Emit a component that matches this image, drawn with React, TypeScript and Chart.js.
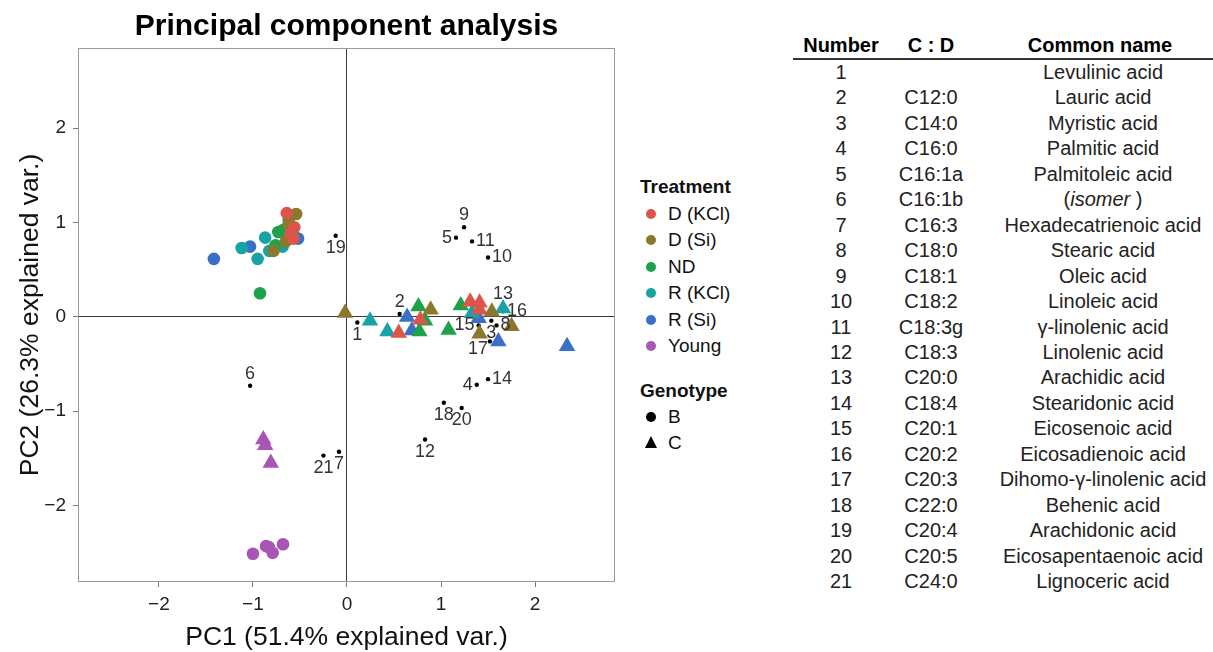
import React, { useEffect, useRef } from "react";
import { Chart, registerables } from "chart.js";

Chart.register(...registerables);

const FONT = "'Liberation Sans', Arial, Helvetica, sans-serif";

// ---------- chart text ----------
const chartTitle = "Principal component analysis";
const xAxisTitle = "PC1 (51.4% explained var.)";
const yAxisTitle = "PC2 (26.3% explained var.)";
const xTickValues = [-2, -1, 0, 1, 2];
const yTickValues = [-2, -1, 0, 1, 2];
const xRange = [-2.86, 2.85];
const yRange = [-2.81, 2.85];

// ---------- legend ----------
const treatments = ["D (KCl)", "D (Si)", "ND", "R (KCl)", "R (Si)", "Young"];
const treatmentColors = ["#DC554B", "#8C782D", "#1FA04B", "#17A2A6", "#3B6FC7", "#A855B5"];
const genotypes = ["B", "C"];

// ---------- scores, genotype B (circles) ----------
const dKclB: [number, number][] = [[-0.64, 1.1], [-0.56, 0.95], [-0.6, 0.88], [-0.57, 0.83]];
const dSiB: [number, number][] = [[-0.54, 1.09], [-0.62, 0.98], [-0.65, 0.8], [-0.78, 0.7]];
const ndB: [number, number][] = [[-0.62, 1.03], [-0.68, 0.92], [-0.73, 0.9], [-0.58, 0.88], [-0.76, 0.76], [-0.925, 0.25]];
const rKclB: [number, number][] = [[-1.12, 0.73], [-0.95, 0.615], [-0.87, 0.84], [-0.826, 0.7], [-0.684, 0.745]];
const rSiB: [number, number][] = [[-1.415, 0.615], [-1.03, 0.745], [-0.64, 0.94], [-0.52, 0.83]];
const youngB: [number, number][] = [[-1.0, -2.51], [-0.86, -2.43], [-0.83, -2.44], [-0.79, -2.5], [-0.68, -2.41]];

// ---------- scores, genotype C (triangles) ----------
const dKclC: [number, number][] = [[0.55, -0.17], [0.78, -0.03], [1.31, 0.16], [1.41, 0.15], [1.41, 0.075]];
const dSiC: [number, number][] = [[-0.02, 0.04], [0.89, 0.075], [1.54, 0.055], [1.41, -0.18], [1.75, -0.1]];
const ndC: [number, number][] = [[0.76, 0.11], [0.83, -0.04], [0.77, -0.155], [1.08, -0.14], [1.21, 0.12]];
const rKclC: [number, number][] = [[0.245, -0.04], [0.43, -0.155], [1.33, 0.04], [1.66, 0.09]];
const rSiC: [number, number][] = [[0.64, 0.0], [0.69, -0.145], [1.4, -0.015], [1.61, -0.26], [2.34, -0.31]];
const youngC: [number, number][] = [[-0.89, -1.3], [-0.87, -1.36], [-0.81, -1.55]];

const groupsB = [dKclB, dSiB, ndB, rKclB, rSiB, youngB];
const groupsC = [dKclC, dSiC, ndC, rKclC, rSiC, youngC];

// ---------- loadings (fatty acids) ----------
const loadingLabels = ["1", "2", "3", "4", "5", "6", "7", "8", "9", "10", "11", "12", "13", "14", "15", "16", "17", "18", "19", "20", "21"];
const loadingX = [0.11, 0.56, 1.535, 1.38, 1.16, -1.03, -0.085, 1.59, 1.245, 1.5, 1.33, 0.83, 1.66, 1.5, 1.4, 1.66, 1.52, 1.03, -0.12, 1.22, -0.25];
const loadingY = [-0.06, 0.03, -0.04, -0.72, 0.84, -0.73, -1.43, -0.09, 0.95, 0.63, 0.8, -1.3, 0.12, -0.66, -0.09, 0.06, -0.26, -0.91, 0.86, -0.965, -1.47];
// label placement relative to its dot (style only)
const loadingLabelSide = ["bottom", "top", "bottom", "left", "left", "top", "bottom", "right", "top", "right", "right", "bottom", "top", "right", "left", "right", "bottomLeft", "bottom", "bottom", "bottom", "bottom"];

// ---------- table ----------
const tableHeaders = ["Number", "C : D", "Common name"];
const tableNumbers = ["1", "2", "3", "4", "5", "6", "7", "8", "9", "10", "11", "12", "13", "14", "15", "16", "17", "18", "19", "20", "21"];
const tableCD = ["", "C12:0", "C14:0", "C16:0", "C16:1a", "C16:1b", "C16:3", "C18:0", "C18:1", "C18:2", "C18:3g", "C18:3", "C20:0", "C18:4", "C20:1", "C20:2", "C20:3", "C22:0", "C20:4", "C20:5", "C24:0"];
const tableNames = ["Levulinic acid", "Lauric acid", "Myristic acid", "Palmitic acid", "Palmitoleic acid", "(isomer)", "Hexadecatrienoic acid", "Stearic acid", "Oleic acid", "Linoleic acid", "γ-linolenic acid", "Linolenic acid", "Arachidic acid", "Stearidonic acid", "Eicosenoic acid", "Eicosadienoic acid", "Dihomo-γ-linolenic acid", "Behenic acid", "Arachidonic acid", "Eicosapentaenoic acid", "Lignoceric acid"];

const fmtTick = (v: number) => (v < 0 ? "\u2212" + Math.abs(v) : String(v));

const panelBorder = {
  id: "panelBorder",
  afterDraw(chart: any) {
    const { ctx, chartArea: a } = chart;
    ctx.save();
    ctx.strokeStyle = "#9a9a9a";
    ctx.lineWidth = 1;
    ctx.strokeRect(a.left + 0.5, a.top + 0.5, a.right - a.left - 1, a.bottom - a.top - 1);
    ctx.restore();
  },
};

const loadingText = {
  id: "loadingText",
  afterDatasetsDraw(chart: any) {
    const idx = chart.data.datasets.findIndex((d: any) => d.label === "loadings");
    if (idx < 0) return;
    const meta = chart.getDatasetMeta(idx);
    const { ctx } = chart;
    ctx.save();
    ctx.font = `18px ${FONT}`;
    ctx.fillStyle = "#333";
    ctx.textBaseline = "middle";
    meta.data.forEach((pt: any, i: number) => {
      const side = loadingLabelSide[i];
      let x = pt.x, y = pt.y;
      ctx.textAlign = "center";
      if (side === "top") y -= 12;
      else if (side === "bottom") y += 12;
      else if (side === "left") { ctx.textAlign = "right"; x -= 4; }
      else if (side === "right") { ctx.textAlign = "left"; x += 4; }
      else if (side === "bottomLeft") { ctx.textAlign = "right"; x -= 2; y += 8; }
      ctx.fillText(loadingLabels[i], x, y);
    });
    ctx.restore();
  },
};

function PcaChart() {
  const ref = useRef<HTMLCanvasElement | null>(null);
  useEffect(() => {
    if (!ref.current) return;
    const datasets: any[] = [];
    groupsB.forEach((g, i) => {
      datasets.push({
        label: treatments[i] + " B",
        data: g.map(([x, y]) => ({ x, y })),
        pointStyle: "circle",
        pointRadius: 6.3,
        backgroundColor: treatmentColors[i],
        borderColor: treatmentColors[i],
        borderWidth: 0,
      });
    });
    groupsC.forEach((g, i) => {
      datasets.push({
        label: treatments[i] + " C",
        data: g.map(([x, y]) => ({ x, y })),
        pointStyle: "triangle",
        pointRadius: 9.5,
        backgroundColor: treatmentColors[i],
        borderColor: treatmentColors[i],
        borderWidth: 0,
      });
    });
    datasets.push({
      label: "loadings",
      data: loadingX.map((x, i) => ({ x, y: loadingY[i] })),
      pointStyle: "circle",
      pointRadius: 2.2,
      backgroundColor: "#000",
      borderWidth: 0,
    });

    const axisCommon = (values: number[]) => ({
      type: "linear" as const,
      afterBuildTicks: (s: any) => {
        s.ticks = values.map((v) => ({ value: v }));
      },
      ticks: {
        color: "#222",
        font: { family: FONT, size: 19 },
        callback: (v: any) => fmtTick(Number(v)),
        autoSkip: false,
        maxRotation: 0,
      },
      grid: {
        drawOnChartArea: true,
        drawTicks: true,
        tickLength: 5,
        color: (c: any) => (c.tick && c.tick.value === 0 ? "#3a3a3a" : "rgba(0,0,0,0)"),
        tickColor: "#7a7a7a",
        lineWidth: 1,
      },
      border: { display: false },
    });

    const chart = new Chart(ref.current, {
      type: "scatter",
      data: { datasets },
      plugins: [panelBorder, loadingText],
      options: {
        animation: false,
        responsive: true,
        maintainAspectRatio: false,
        layout: { padding: { left: 0, right: 15, top: 0, bottom: 0 } },
        plugins: {
          legend: { display: false },
          tooltip: { enabled: false },
          title: {
            display: true,
            text: chartTitle,
            fullSize: false,
            color: "#000",
            font: { family: FONT, size: 30, weight: "bold", lineHeight: 1.2 },
            padding: { top: 9, bottom: 3 },
          },
        },
        scales: {
          x: {
            ...axisCommon(xTickValues),
            min: xRange[0],
            max: xRange[1],
            ticks: { ...axisCommon(xTickValues).ticks, padding: 6 },
            title: {
              display: true,
              text: xAxisTitle,
              color: "#111",
              font: { family: FONT, size: 26.5, lineHeight: 1.1 },
              padding: { top: 0, bottom: 0 },
            },
            afterFit: (s: any) => {
              s.height = 70;
            },
          },
          y: {
            ...axisCommon(yTickValues),
            min: yRange[0],
            max: yRange[1],
            ticks: { ...axisCommon(yTickValues).ticks, padding: 7 },
            title: {
              display: true,
              text: yAxisTitle,
              color: "#111",
              font: { family: FONT, size: 26.5, lineHeight: 1.2 },
              padding: { top: 15, bottom: 0 },
            },
            afterFit: (s: any) => {
              s.width = 78;
            },
          },
        },
      },
    } as any);
    return () => chart.destroy();
  }, []);
  return <canvas ref={ref} />;
}

const legendText: React.CSSProperties = {
  position: "absolute",
  left: 668,
  height: 24,
  lineHeight: "24px",
  fontSize: 19,
  color: "#111",
  whiteSpace: "nowrap",
};

function Legend() {
  const rowCenter = (i: number) => 214 + i * 26.4;
  return (
    <>
      <div style={{ ...legendText, left: 640, top: 187 - 12, fontWeight: "bold" }}>Treatment</div>
      {treatments.map((t, i) => (
        <React.Fragment key={t}>
          <div
            style={{
              position: "absolute",
              left: 646,
              top: rowCenter(i) - 5,
              width: 10,
              height: 10,
              borderRadius: "50%",
              background: treatmentColors[i],
            }}
          />
          <div style={{ ...legendText, top: rowCenter(i) - 12 }}>{t}</div>
        </React.Fragment>
      ))}
      <div style={{ ...legendText, left: 640, top: 391 - 12, fontWeight: "bold" }}>Genotype</div>
      {genotypes.map((g, i) => {
        const cy = 417 + i * 25.5;
        return (
          <React.Fragment key={g}>
            {i === 0 ? (
              <div
                style={{
                  position: "absolute",
                  left: 646,
                  top: cy - 5,
                  width: 10,
                  height: 10,
                  borderRadius: "50%",
                  background: "#000",
                }}
              />
            ) : (
              <div
                style={{
                  position: "absolute",
                  left: 645,
                  top: cy - 7,
                  width: 0,
                  height: 0,
                  borderLeft: "6.5px solid transparent",
                  borderRight: "6.5px solid transparent",
                  borderBottom: "12px solid #000",
                }}
              />
            )}
            <div style={{ ...legendText, top: cy - 12 }}>{g}</div>
          </React.Fragment>
        );
      })}
    </>
  );
}

function renderName(name: string) {
  const m = name.match(/^\((.*)\)$/);
  if (m) {
    return (
      <>
        (<i>{m[1]}</i>&nbsp;)
      </>
    );
  }
  return name;
}

function Table() {
  const colCenters = [841, 931, 1103];
  const cell = (cx: number, cy: number, bold: boolean): React.CSSProperties => ({
    position: "absolute",
    left: cx - 120,
    width: 240,
    top: cy - 12,
    height: 24,
    lineHeight: "24px",
    textAlign: "center",
    fontSize: 20,
    fontWeight: bold ? "bold" : "normal",
    color: bold ? "#000" : "#222",
    whiteSpace: "nowrap",
  });
  return (
    <>
      {tableHeaders.map((h, j) => (
        <div key={h} style={cell(j === 2 ? 1100 : colCenters[j], 45, true)}>
          {h}
        </div>
      ))}
      <div style={{ position: "absolute", left: 793, top: 58, width: 420, height: 2, background: "#333" }} />
      {tableNumbers.map((n, i) => {
        const cy = 72 + i * 25.45;
        return (
          <React.Fragment key={n}>
            <div style={cell(colCenters[0], cy, false)}>{n}</div>
            <div style={cell(colCenters[1], cy, false)}>{tableCD[i]}</div>
            <div style={cell(colCenters[2], cy, false)}>{renderName(tableNames[i])}</div>
          </React.Fragment>
        );
      })}
    </>
  );
}

export default function App() {
  return (
    <div
      style={{
        position: "absolute",
        left: 0,
        top: 0,
        width: 1213,
        height: 652,
        background: "#fff",
        fontFamily: FONT,
        overflow: "hidden",
      }}
    >
      <div style={{ position: "absolute", left: 0, top: 0, width: 630, height: 652 }}>
        <PcaChart />
      </div>
      <Legend />
      <Table />
    </div>
  );
}
